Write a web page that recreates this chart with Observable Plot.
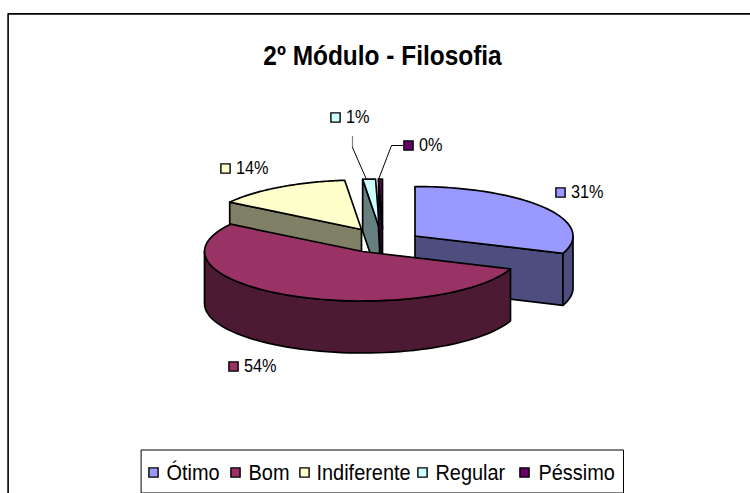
<!DOCTYPE html>
<html>
<head>
<meta charset="utf-8">
<script src="https://cdn.jsdelivr.net/npm/d3@7"></script>
<script src="https://cdn.jsdelivr.net/npm/@observablehq/plot@0.6"></script>
<style>html,body{margin:0;padding:0;background:#fff;overflow:hidden}svg{display:block}</style>
</head>
<body>
<div id="chart"></div>
<script>
const chartTitle = "2º Módulo - Filosofia";
const categories = ["Ótimo", "Bom", "Indiferente", "Regular", "Péssimo"];
const shares = [0.307, 0.536, 0.14, 0.013, 0.004];
const topColors = ["#9999FF", "#993366", "#FFFFCC", "#CCFFFF", "#660066"];
const sideColors = ["#4D4D80", "#4D1A33", "#808066", "#668080", "#330033"];

// Pie projection: each slice's exploded apex, the ellipse radii and the extrusion depth
const apexX = [414.5, 362, 361, 379, 382];
const apexY = [235.5, 251, 229, 228, 228];
const radiusX = 158, radiusY = 49.5, depth = 52;
// Label anchors (key square centre)
const labelKeyX = [560, 233, 225, 335, 408];
const labelKeyY = [192, 366, 168, 117, 145];
// Legend anchors
const legendKeyX = [153, 235, 304, 422, 524];
const legendTextX = [166, 248, 316, 435, 538];
const legendY = 472;

const W = 750, H = 493, TAU = 2 * Math.PI;
const fmt = d3.format(".0%");

// Cumulative slice angles, clockwise from twelve o'clock
const ends = d3.cumsum(shares);
const slices = categories.map((name, i) => ({
  name, i, a0: (i ? ends[i - 1] : 0) * TAU, a1: ends[i] * TAU,
  cx: apexX[i], cy: apexY[i]
}));
const rim = (s, a, dz = 0) => ({x: s.cx + radiusX * Math.sin(a), y: s.cy - radiusY * Math.cos(a) + dz});
const sweep = (a0, a1) => d3.range(0, 61).map(k => a0 + (a1 - a0) * k / 60);

const topFace = s => [{x: s.cx, y: s.cy}, ...sweep(s.a0, s.a1).map(a => rim(s, a))];
// Flat cut face running from the apex to the rim at angle a
const cutFace = (s, a) => [{x: s.cx, y: s.cy}, rim(s, a), rim(s, a, depth), {x: s.cx, y: s.cy + depth}];
// Curved outer wall limited to the front half of the ellipse
const wall = s => {
  const as = sweep(Math.max(s.a0, Math.PI / 2), Math.min(s.a1, 1.5 * Math.PI));
  return [...as.map(a => rim(s, a)), ...as.slice().reverse().map(a => rim(s, a, depth))];
};
const polyMark = (pts, fill) => Plot.line(pts, {
  x: "x", y: "y", fill, stroke: "#000", strokeWidth: 1.7, curve: "linear-closed", strokeLinejoin: "round"
});

const [otimo, bom, indif, regular, pessimo] = slices;
const marks = [];

// Painter's order: back slices first, Bom in front of everything
marks.push(polyMark(cutFace(otimo, otimo.a1), sideColors[0]));
marks.push(polyMark(wall(otimo), sideColors[0]));
marks.push(polyMark(topFace(otimo), topColors[0]));
marks.push(polyMark(cutFace(indif, indif.a0), sideColors[2]));
marks.push(polyMark(topFace(indif), topColors[2]));
marks.push(polyMark(cutFace(regular, regular.a0), sideColors[3]));
marks.push(polyMark(topFace(regular), topColors[3]));
marks.push(polyMark(cutFace(pessimo, pessimo.a0), sideColors[4]));
marks.push(polyMark(topFace(pessimo), topColors[4]));
marks.push(polyMark(wall(bom), sideColors[1]));
marks.push(polyMark(topFace(bom), topColors[1]));

// Leader lines for the two small slices
const leadRegularGray = [{x: 352, y: 136}, {x: 352, y: 147}];
const leadRegular = [{x: 352, y: 147}, {x: 366, y: 179}];
const leadPessimo = [{x: 402, y: 145}, {x: 391, y: 145}, {x: 378, y: 179}];
marks.push(Plot.line(leadRegularGray, {x: "x", y: "y", stroke: "#808080", strokeWidth: 1.2}));
marks.push(Plot.line(leadRegular, {x: "x", y: "y", stroke: "#000", strokeWidth: 1}));
marks.push(Plot.line(leadPessimo, {x: "x", y: "y", stroke: "#000", strokeWidth: 1}));

// Data labels
const labelRows = categories.map((c, i) => ({c, i, x: labelKeyX[i], y: labelKeyY[i], t: fmt(shares[i])}));
marks.push(Plot.dot(labelRows, {x: "x", y: "y", symbol: "square", r: 5.2, fill: "c", stroke: "#000", strokeWidth: 1.4}));
marks.push(Plot.text(labelRows, {x: d => d.x + 10.5, y: "y", text: "t", textAnchor: "start", fontSize: 18, fill: "#000"}));

// Chart frame (top and left edges only: the picture is cropped on the others)
marks.push(Plot.line([{x: 7.6, y: H}, {x: 7.6, y: 13.4}, {x: W, y: 13.4}], {x: "x", y: "y", stroke: "#000", strokeWidth: 1.6}));

// Title
marks.push(Plot.text([chartTitle], {x: () => 382, y: () => 56, text: d => d, fontSize: 27, fontWeight: "bold", fill: "#000"}));

// Legend
marks.push(Plot.line([{x: 141, y: 449.5}, {x: 623, y: 449.5}, {x: 623, y: 492.5}, {x: 141, y: 492.5}], {x: "x", y: "y", stroke: "#000", strokeWidth: 1, curve: "linear-closed", fill: "#fff"}));
const legendRows = categories.map((c, i) => ({c, kx: legendKeyX[i], tx: legendTextX[i], y: legendY}));
marks.push(Plot.dot(legendRows, {x: "kx", y: "y", symbol: "square", r: 5.2, fill: "c", stroke: "#000", strokeWidth: 1.4}));
marks.push(Plot.text(legendRows, {x: "tx", y: "y", text: "c", textAnchor: "start", fontSize: 22, fill: "#000"}));

const chart = Plot.plot({
  width: W, height: H,
  margin: 0,
  style: {fontFamily: "'Liberation Sans', Arial, sans-serif", background: "#fff"},
  x: {domain: [0, W], range: [0, W], axis: null},
  y: {domain: [0, H], range: [0, H], axis: null},
  color: {domain: categories, range: topColors},
  marks
});
document.getElementById("chart").append(chart);

// The reference's lettering is tall and slightly condensed
const condense = 0.905;
chart.querySelectorAll("text").forEach(t => {
  t.setAttribute("textLength", (t.getComputedTextLength() * condense).toFixed(1));
  t.setAttribute("lengthAdjust", "spacingAndGlyphs");
});
</script>
</body>
</html>
